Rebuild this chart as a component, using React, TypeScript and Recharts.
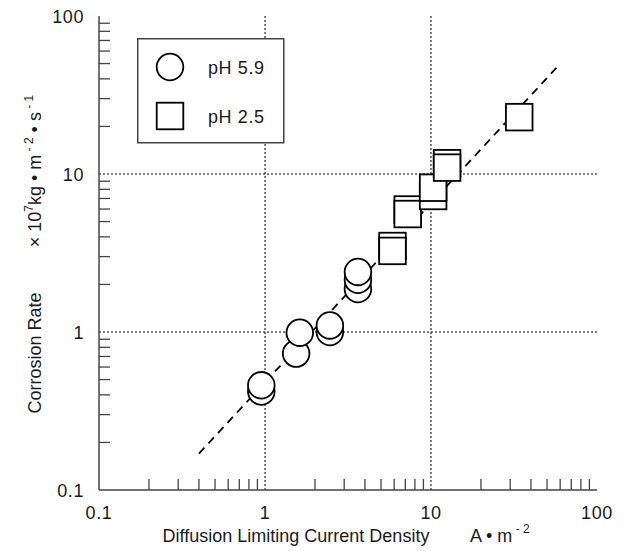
import React from 'react';
import {
  ScatterChart,
  Scatter,
  XAxis,
  YAxis,
  ReferenceLine,
} from 'recharts';

// pH 5.9 runs (current density A/m2, corrosion rate x1e-7 kg/m2/s)
const ph59X = [0.95, 0.95, 1.54, 1.62, 2.46, 2.46, 3.63, 3.63, 3.63];
const ph59Y = [0.42, 0.46, 0.73, 0.99, 1.0, 1.1, 1.87, 2.14, 2.4];

// pH 2.5 runs (drawing order matters for the overlaps)
const ph25X = [5.86, 5.86, 7.24, 7.24, 10.3, 10.3, 12.5, 12.5, 34.0];
const ph25Y = [3.5, 3.26, 5.96, 5.58, 7.26, 8.19, 11.7, 10.97, 22.9];

// fitted line end points
const fitX = [0.4, 58];
const fitY = [0.17, 48];

const majorTicks = [0.1, 1, 10, 100];
const allTicks = [
  0.1, 0.2, 0.3, 0.4, 0.5, 0.6, 0.7, 0.8, 0.9,
  1, 2, 3, 4, 5, 6, 7, 8, 9,
  10, 20, 30, 40, 50, 60, 70, 80, 90,
  100,
];
const gridAt = [1, 10];

const ph59 = ph59X.map((x, i) => ({ x, y: ph59Y[i] }));
const ph25 = ph25X.map((x, i) => ({ x, y: ph25Y[i] }));
const fitSegment = fitX.map((x, i) => ({ x, y: fitY[i] }));

const FRAME = '#444';
const INK = '#1a1a1a';
const FONT = '"Liberation Sans", Arial, sans-serif';
const TICK_LEN = 11;
const TICK_FONT = 18;
const TITLE_FONT = 18;

const isMajor = (v: number) => majorTicks.includes(v);

const BottomTick = ({ x, y, payload }: any) => {
  const v = payload.value;
  return (
    <g>
      {!isMajor(v) && <line x1={x} x2={x} y1={y} y2={y - TICK_LEN} stroke={FRAME} strokeWidth={1.3} />}
      {isMajor(v) && (
        <text x={x} y={y + 29} textAnchor="middle" fontSize={TICK_FONT} letterSpacing={0.6} fill={INK} fontFamily={FONT}>
          {v}
        </text>
      )}
    </g>
  );
};

const TopTick = ({ x, y, payload }: any) =>
  isMajor(payload.value) ? <g /> : (
    <line x1={x} x2={x} y1={y} y2={y + TICK_LEN} stroke={FRAME} strokeWidth={1.3} />
  );

const LeftTick = ({ x, y, payload }: any) => {
  const v = payload.value;
  return (
    <g>
      {!isMajor(v) && <line x1={x} x2={x + TICK_LEN} y1={y} y2={y} stroke={FRAME} strokeWidth={1.3} />}
      {isMajor(v) && (
        <text x={x - 15} y={y + 6.5} textAnchor="end" fontSize={TICK_FONT} letterSpacing={0.6} fill={INK} fontFamily={FONT}>
          {v}
        </text>
      )}
    </g>
  );
};

const RightTick = ({ x, y, payload }: any) =>
  isMajor(payload.value) ? <g /> : (
    <line x1={x} x2={x - TICK_LEN} y1={y} y2={y} stroke={FRAME} strokeWidth={1.3} />
  );

const XTitle = ({ viewBox }: any) => {
  const { x, y } = viewBox;
  return (
    <g fontFamily={FONT} fill={INK}>
      <text x={x + 197} y={y + 52} textAnchor="middle" fontSize={TITLE_FONT}>
        Diffusion Limiting Current Density
      </text>
      <text x={x + 371} y={y + 52} fontSize={TITLE_FONT}>
        A • m
        <tspan fontSize={12} dy={-9}> - 2</tspan>
      </text>
    </g>
  );
};

const YTitle = ({ viewBox }: any) => {
  const bx = 33;
  const cy1 = viewBox.y + 337;
  const cy2 = viewBox.y + 155;
  return (
    <g fontFamily={FONT} fill={INK} fontSize={TITLE_FONT}>
      <text x={bx} y={cy1} textAnchor="middle" transform={`rotate(-90, ${bx}, ${cy1})`}>
        Corrosion Rate
      </text>
      <text x={bx} y={cy2} textAnchor="middle" transform={`rotate(-90, ${bx}, ${cy2})`}>
        × 10
        <tspan fontSize={12} dy={-8}>7</tspan>
        <tspan dy={8}>kg • m</tspan>
        <tspan fontSize={12} dy={-8}> - 2</tspan>
        <tspan dy={8}> • s</tspan>
        <tspan fontSize={12} dy={-8}> - 1</tspan>
      </text>
    </g>
  );
};

const CircleMark = ({ cx, cy }: any) => (
  <circle cx={cx} cy={cy} r={13.3} fill="#fff" stroke="#000" strokeWidth={1.8} />
);

const SquareMark = ({ cx, cy }: any) => (
  <rect x={cx - 13.3} y={cy - 13.3} width={26.6} height={26.6} fill="#fff" stroke="#000" strokeWidth={1.8} />
);

const LegendBox = () => (
  <div style={{ position: 'absolute', left: 129, top: 30 }}>
    <svg width={148} height={106}>
      <rect x={0.75} y={0.75} width={146} height={104} fill="#fff" stroke={FRAME} strokeWidth={1.5} />
      <circle cx={33} cy={29} r={13.3} fill="#fff" stroke="#000" strokeWidth={1.8} />
      <rect x={33 - 13.3} y={78 - 13.3} width={26.6} height={26.6} fill="#fff" stroke="#000" strokeWidth={1.8} />
      <text x={71} y={36} fontSize={18} letterSpacing={0.6} fontFamily={FONT} fill={INK}>pH 5.9</text>
      <text x={71} y={85} fontSize={18} letterSpacing={0.6} fontFamily={FONT} fill={INK}>pH 2.5</text>
    </svg>
  </div>
);

export default function App() {
  return (
    <div style={{ position: 'relative', width: 610, height: 543, fontFamily: FONT }}>
      <ScatterChart width={610} height={543} margin={{ top: 8, right: 21, left: 0, bottom: 0 }}>
        <XAxis
          dataKey="x"
          type="number"
          scale="log"
          domain={[0.1, 100]}
          allowDataOverflow
          ticks={allTicks}
          interval={0}
          tickSize={0}
          tickMargin={0}
          tickLine={false}
          axisLine={{ stroke: FRAME, strokeWidth: 1.5 }}
          tick={<BottomTick />}
          height={61}
          label={{ content: <XTitle /> }}
        />
        <XAxis
          xAxisId="top"
          orientation="top"
          dataKey="x"
          type="number"
          scale="log"
          domain={[0.1, 100]}
          allowDataOverflow
          ticks={allTicks}
          interval={0}
          tickSize={0}
          tickMargin={0}
          tickLine={false}
          axisLine={{ stroke: FRAME, strokeWidth: 1.5 }}
          tick={<TopTick />}
          height={0}
        />
        <YAxis
          dataKey="y"
          type="number"
          scale="log"
          domain={[0.1, 100]}
          allowDataOverflow
          ticks={allTicks}
          interval={0}
          tickSize={0}
          tickMargin={0}
          tickLine={false}
          axisLine={{ stroke: FRAME, strokeWidth: 1.5 }}
          tick={<LeftTick />}
          width={91}
          label={{ content: <YTitle /> }}
        />
        <YAxis
          yAxisId="right"
          orientation="right"
          dataKey="y"
          type="number"
          scale="log"
          domain={[0.1, 100]}
          allowDataOverflow
          ticks={allTicks}
          interval={0}
          tickSize={0}
          tickMargin={0}
          tickLine={false}
          axisLine={{ stroke: FRAME, strokeWidth: 1.5 }}
          tick={<RightTick />}
          width={0}
        />
        {gridAt.map((v) => (
          <ReferenceLine key={`gx${v}`} x={v} stroke="#000" strokeDasharray="2 2" strokeWidth={1} />
        ))}
        {gridAt.map((v) => (
          <ReferenceLine key={`gy${v}`} y={v} stroke="#000" strokeDasharray="2 2" strokeWidth={1} />
        ))}
        <ReferenceLine segment={fitSegment} stroke="#000" strokeWidth={1.8} strokeDasharray="8 6" />
        <Scatter name="pH 5.9" data={ph59} shape={<CircleMark />} isAnimationActive={false} />
        <Scatter name="pH 2.5" data={ph25} shape={<SquareMark />} isAnimationActive={false} />
      </ScatterChart>
      <LegendBox />
    </div>
  );
}
